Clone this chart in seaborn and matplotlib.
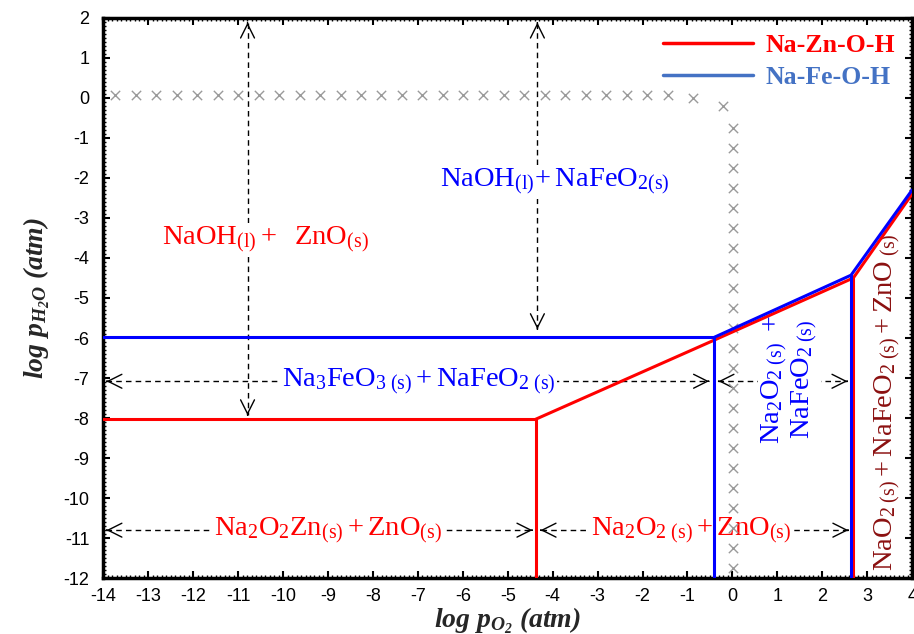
import seaborn as sns
import matplotlib.pyplot as plt

# phase boundaries, Na-Zn-O-H (red)
zn_low_x = [-14, -4.38, -4.38]
zn_low_y = [-8.03, -8.03, -12]
zn_diag_x = [-4.38, -0.40, 2.69, 4]
zn_diag_y = [-8.03, -6.05, -4.50, -2.40]
zn_vert_x = [2.69, 2.69]
zn_vert_y = [-12, -4.50]

# phase boundaries, Na-Fe-O-H (blue)
fe_low_x = [-14, -0.40, -0.40]
fe_low_y = [-5.98, -5.98, -12]
fe_diag_x = [-0.40, 2.64, 4]
fe_diag_y = [-5.98, -4.43, -2.30]
fe_vert_x = [2.64, 2.64]
fe_vert_y = [-12, -4.43]

# grey cross markers
cross_x = [-13.73, -13.27, -12.82, -12.36, -11.91, -11.45, -11.00, -10.54,
           -10.09, -9.63, -9.18, -8.72, -8.27, -7.81, -7.36, -6.90, -6.45,
           -5.99, -5.54, -5.08, -4.63, -4.17, -3.72, -3.26, -2.81, -2.35,
           -1.90, -1.44, -0.87, -0.22,
           0.02, 0.02, 0.02, 0.02, 0.02, 0.02, 0.02, 0.02, 0.02, 0.02, 0.02,
           0.02, 0.02, 0.02, 0.02, 0.02, 0.02, 0.02, 0.02, 0.02, 0.02, 0.02, 0.02]
cross_y = [0.08] * 28 + [0.0, -0.20,
           -0.75, -1.25, -1.75, -2.25, -2.75, -3.25, -3.75, -4.25, -4.75, -5.25,
           -5.75, -6.25, -6.75, -7.25, -7.75, -8.25, -8.75, -9.25, -9.75,
           -10.25, -10.75, -11.25, -11.75]

x_ticks = list(range(-14, 5))
y_ticks = list(range(-12, 3))

RED = "#ff0000"
BLUE = "#0000ff"
LEG_BLUE = "#4472c4"
DARK_RED = "#8b1010"

sns.set_style("ticks")
plt.rcParams["font.family"] = ["Liberation Sans", "DejaVu Sans"]
plt.rcParams["axes.unicode_minus"] = False
plt.rcParams["mathtext.fontset"] = "custom"
plt.rcParams["mathtext.rm"] = "Liberation Serif"
plt.rcParams["mathtext.it"] = "Liberation Serif:italic"
plt.rcParams["mathtext.bf"] = "Liberation Serif:bold"
plt.rcParams["mathtext.bfit"] = "Liberation Serif:italic:bold"
plt.rcParams["mathtext.default"] = "rm"

fig = plt.figure(figsize=(9.14, 6.34), dpi=100)
ax = fig.add_axes([0.113, 0.088, 0.885, 0.884])

sns.scatterplot(x=cross_x, y=cross_y, marker="x", s=45, color="#9a9a9a",
                linewidth=1.0, ax=ax, zorder=3)

for xs, ys, c in [(zn_low_x, zn_low_y, RED), (zn_diag_x, zn_diag_y, RED),
                  (zn_vert_x, zn_vert_y, RED),
                  (fe_low_x, fe_low_y, BLUE), (fe_diag_x, fe_diag_y, BLUE),
                  (fe_vert_x, fe_vert_y, BLUE)]:
    sns.lineplot(x=xs, y=ys, sort=False, estimator=None, color=c,
                 linewidth=2.2, ax=ax, zorder=4)

# dashed double arrows (start, end)
arrows = [((-10.79, 1.88), (-10.79, -7.93)),
          ((-4.34, 1.88), (-4.34, -5.78)),
          ((-13.93, -7.08), (-0.52, -7.08)),
          ((-0.31, -7.08), (2.56, -7.08)),
          ((-13.93, -10.8), (-4.45, -10.8)),
          ((-4.27, -10.8), (2.58, -10.8))]
for (x0, y0), (x1, y1) in arrows:
    ax.plot([x0, x1], [y0, y1], ls=(0, (4, 3)), color="black", lw=1.0, zorder=1)
    dx, dy = (x1 - x0) * 0.001, (y1 - y0) * 0.001
    for tip, tail in [((x0, y0), (x0 + dx, y0 + dy)), ((x1, y1), (x1 - dx, y1 - dy))]:
        ax.annotate("", xy=tip, xytext=tail, zorder=1,
                    arrowprops=dict(arrowstyle="->,head_length=1.0,head_width=0.5",
                                    color="black", lw=1.0, shrinkA=0, shrinkB=0))

fs = 20.5
box = dict(facecolor="white", edgecolor="none", pad=1)
ax.text(-10.4, -3.55, r"$NaOH_{(l)} +\ \ ZnO_{(s)}$", color=RED, fontsize=fs,
        ha="center", va="center", bbox=box, zorder=2)
ax.text(-3.95, -2.1, r"$NaOH_{(l)}\!+ NaFeO_{2(s)}$", color=BLUE, fontsize=fs,
        ha="center", va="center", bbox=box, zorder=2)
ax.text(-6.98, -7.08, r"$Na_3FeO_{3\ (s)} + NaFeO_{2\ (s)}$", color=BLUE,
        fontsize=fs, ha="center", va="center", bbox=box, zorder=2)
ax.text(-9.0, -10.8, r"$Na_2O_2Zn_{(s)} + ZnO_{(s)}$", color=RED, fontsize=fs,
        ha="center", va="center", bbox=box, zorder=2)
ax.text(-0.92, -10.8, r"$Na_2O_{2\ (s)} + ZnO_{(s)}$", color=RED, fontsize=fs,
        ha="center", va="center", bbox=box, zorder=2)
ax.text(1.27, -7.03, "$Na_2O_{2\\ (s)}\\ +$\n$NaFeO_{2\\ (s)}$", color=BLUE,
        fontsize=fs, ha="center", va="center", rotation=90, linespacing=0.95,
        multialignment="center", bbox=box, zorder=2)
ax.text(3.45, -7.6, r"$NaO_{2\ (s)} + NaFeO_{2\ (s)} + ZnO_{\ (s)}$",
        color=DARK_RED, fontsize=fs, ha="center", va="center", rotation=90, zorder=2)

# legend
h1, = ax.plot([], [], color=RED, lw=2.5)
h2, = ax.plot([], [], color=LEG_BLUE, lw=2.5)
ax.legend([h1, h2], ["Na-Zn-O-H", "Na-Fe-O-H"], loc="upper right",
          frameon=False, handlelength=3.5, handletextpad=0.5, labelspacing=0.35,
          borderaxespad=0.25, labelcolor=[RED, LEG_BLUE],
          prop={"family": "Liberation Serif", "weight": "bold", "size": 18.5})

ax.set_xlim(-14, 4)
ax.set_ylim(-12, 2)
ax.set_xticks(x_ticks)
ax.set_yticks(y_ticks)
ax.set_xticks([v / 10 for v in range(-140, 41)], minor=True)
ax.set_yticks([v / 10 for v in range(-120, 21)], minor=True)
ax.tick_params(which="both", direction="in", top=True, right=True,
               labelsize=13, colors="black")
ax.tick_params(which="major", length=5, width=1.5)
ax.tick_params(axis="x", which="major", pad=7)
ax.tick_params(axis="y", which="major", pad=10)
ax.tick_params(which="minor", length=2.5, width=1.0)
for sp in ax.spines.values():
    sp.set_linewidth(2.5)
    sp.set_color("black")

ax.set_xlabel(r"$\mathbfit{log\ p_{O_2}\ (atm)}$", fontsize=20, labelpad=0)
ax.set_ylabel(r"$\mathbfit{log\ p_{H_2O}\ (atm)}$", fontsize=20, labelpad=8)

fig.savefig("out.png", dpi=100)
